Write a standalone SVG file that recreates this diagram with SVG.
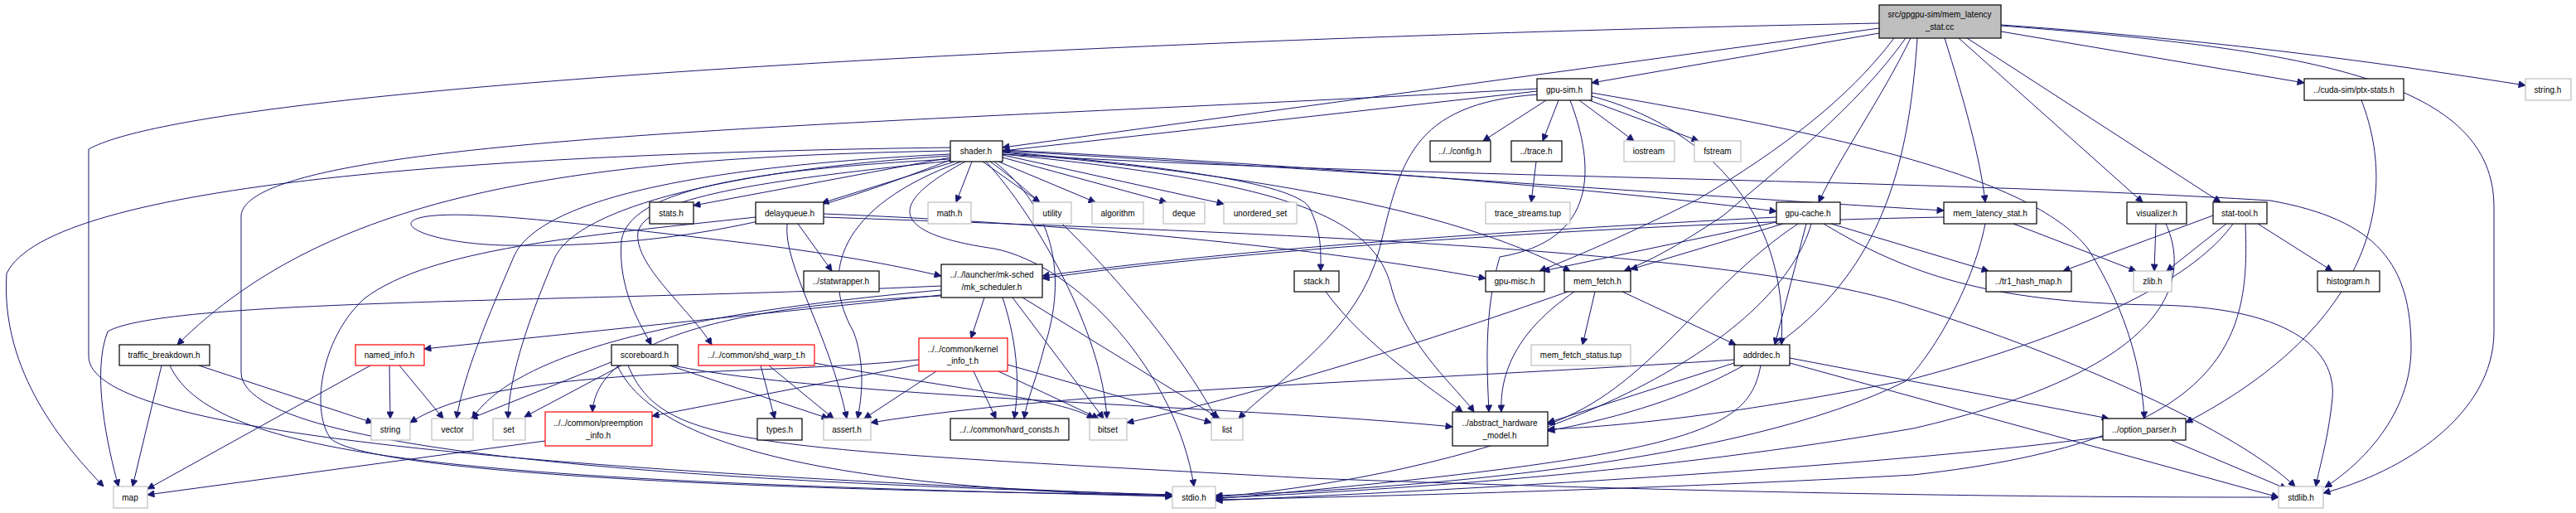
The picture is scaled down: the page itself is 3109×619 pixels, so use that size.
<svg xmlns="http://www.w3.org/2000/svg" width="3109" height="619" viewBox="0 0 3109 619">
<style>
rect{fill:#fff;stroke:#000;stroke-width:1.2}
rect.g{stroke:#bfbfbf}
rect.r{stroke:#ff0000}
rect.root{fill:#bfbfbf}
text{font-family:"Liberation Sans",Arial,sans-serif;font-size:10px;text-anchor:middle;fill:#000}
#edges path{fill:none;stroke:#191970;stroke-width:1;marker-end:url(#a)}
</style>
<defs>
<marker id="a" viewBox="0 0 10 10" refX="10" refY="5" markerWidth="11" markerHeight="8" markerUnits="userSpaceOnUse" orient="auto"><path d="M0,0 L10,5 L0,10 z" fill="#191970" stroke="#191970"/></marker>
</defs>
<rect x="0" y="0" width="3109" height="619" style="fill:#fff;stroke:none"/>
<g id="edges">
<!-- root -->
<path d="M2268,40 L1921,100"/>
<path d="M2268,34 L1210,178"/>
<path d="M2268,28 C1400,45 250,100 107,180 L107,430 C107,520 600,565 1415,598"/>
<path d="M2286,46 C2230,120 2150,180 2050,240 C1950,290 1900,310 1858,327"/>
<path d="M2300,46 C2240,130 2150,200 2080,260 C2020,300 1990,315 1960,327"/>
<path d="M2306,46 C2270,120 2220,190 2195,244"/>
<path d="M2314,46 C2300,250 2250,450 1868,520"/>
<path d="M2347,46 C2370,120 2390,190 2396,244"/>
<path d="M2364,46 L2586,244"/>
<path d="M2374,46 L2680,244"/>
<path d="M2415,38 L2781,100"/>
<path d="M2415,30 C2700,50 2900,80 3048,103"/>
<path d="M2415,31 C2800,60 3010,100 3010,250 L3010,400 C3010,500 2900,570 2804,595"/>
<!-- gpu-sim.h -->
<path d="M1855,110 L1210,182"/>
<path d="M1866,121 L1790,170"/>
<path d="M1881,121 L1862,170"/>
<path d="M1906,121 L1972,170"/>
<path d="M1918,121 L2050,170"/>
<path d="M1855,107 C1100,150 300,160 291,260 L291,450 C295,560 1000,585 1415,597"/>
<path d="M1921,116 C2050,150 2160,250 2150,416"/>
<path d="M1921,112 C2200,160 2450,210 2520,300 C2570,380 2585,450 2588,505"/>
<path d="M1895,121 C1925,200 1930,290 1810,310 C1790,380 1795,450 1797,497"/>
<path d="M1856,114 C1700,125 1690,200 1665,300 C1640,400 1540,460 1495,505"/>
<!-- shader.h -->
<path d="M1147,178 C600,185 60,220 8,330 C0,450 80,540 125,587"/>
<path d="M1147,182 C700,190 400,230 214,416"/>
<path d="M1147,190 L837,248"/>
<path d="M1152,195 L992,245"/>
<path d="M1173,195 L1154,244"/>
<path d="M1186,195 L1255,244"/>
<path d="M1205,195 L1322,244"/>
<path d="M1210,190 L1408,244"/>
<path d="M1210,187 L1477,246"/>
<path d="M1210,183 C1400,200 1560,220 1580,250 C1595,280 1594,300 1594,327"/>
<path d="M1210,184 C1500,210 1750,250 1895,327"/>
<path d="M1210,181 C1600,200 1950,230 2144,255"/>
<path d="M1210,182 C1700,210 2100,240 2346,254"/>
<path d="M1210,186 C1700,215 2300,215 2740,242 C2870,265 2910,320 2910,420 C2910,500 2850,560 2806,588"/>
<path d="M1210,186 C1550,220 1660,260 1680,350 C1700,420 1760,470 1779,497"/>
<path d="M1165,195 C1080,240 1060,280 1200,300 C1300,320 1420,450 1441,587"/>
<path d="M1160,195 C1010,250 990,330 1030,400 C1045,440 1040,480 1035,505"/>
<path d="M1147,186 C850,200 650,240 620,310 C590,380 560,450 551,505"/>
<path d="M1147,188 C880,205 700,250 670,310 C640,380 615,450 613,505"/>
<path d="M1195,195 C1260,240 1400,380 1468,505"/>
<path d="M1190,195 C1250,260 1330,400 1336,505"/>
<path d="M1200,195 C1270,250 1290,330 1260,420 C1250,460 1240,480 1236,505"/>
<path d="M1147,192 C900,205 760,230 750,290 C745,350 775,395 786,416"/>
<path d="M1148,194 C950,215 780,235 770,280 C765,320 830,370 859,416"/>
<path d="M1147,193 C1000,250 850,300 610,296 C520,294 470,270 510,262 C560,252 700,270 890,292 C1000,305 1080,320 1136,333"/>
<!-- trace.h -->
<path d="M1854,195 L1848,244"/>
<!-- delayqueue.h -->
<path d="M963,270 L1004,327"/>
<path d="M950,270 C945,320 1000,400 1022,505"/>
<path d="M912,262 C700,285 520,300 440,360 C385,410 375,500 400,530 C450,570 900,592 1415,597"/>
<path d="M994,258 C1300,270 1600,300 1793,336"/>
<path d="M994,262 C1500,280 2100,300 2309,370 C2500,430 2700,520 2770,587"/>
<!-- traffic_breakdown.h -->
<path d="M240,441 L450,510"/>
<path d="M195,441 L160,587"/>
<path d="M205,441 C260,560 600,580 1415,599"/>
<!-- named_info.h -->
<path d="M470,441 L471,505"/>
<path d="M482,441 L535,505"/>
<path d="M447,441 L178,590"/>
<!-- scoreboard.h -->
<path d="M750,441 L633,503"/>
<path d="M740,436 L568,505"/>
<path d="M808,441 L1000,505"/>
<path d="M745,441 C800,560 1100,590 1415,599"/>
<path d="M758,441 C800,540 900,540 1580,577 C2200,600 2600,600 2750,600"/>
<path d="M812,441 C1000,480 1500,490 1753,515"/>
<!-- shd_warp_t.h -->
<path d="M918,441 L935,505"/>
<path d="M928,441 L1006,505"/>
<path d="M983,438 C1150,470 1280,480 1320,505"/>
<!-- kernel_info_t.h -->
<path d="M1130,448 L1043,505"/>
<path d="M1175,448 L1202,505"/>
<path d="M1205,448 L1326,505"/>
<path d="M1216,440 L1462,510"/>
<path d="M1109,440 L787,502"/>
<path d="M1109,434 C900,455 600,440 495,510"/>
<!-- mk_scheduler.h -->
<path d="M1188,359 L1172,408"/>
<path d="M1210,359 C1230,420 1230,470 1224,505"/>
<path d="M1222,359 L1332,505"/>
<path d="M1234,359 L1472,505"/>
<path d="M1136,356 L512,421"/>
<path d="M1136,350 C800,380 620,430 570,505"/>
<path d="M1136,345 C700,365 200,360 130,400 C110,450 130,540 143,587"/>
<path d="M1136,357 C850,370 720,420 715,497"/>
<!-- preemption_info.h -->
<path d="M658,532 L178,597"/>
<!-- gpu-cache.h -->
<path d="M2144,262 C1800,280 1500,300 1258,333"/>
<path d="M2152,270 L1968,325"/>
<path d="M2144,268 L1862,327"/>
<path d="M2210,270 L2400,327"/>
<path d="M2180,270 L2142,416"/>
<path d="M2170,270 C2050,350 1990,470 1868,512"/>
<path d="M2186,270 C2150,400 1900,560 1467,600"/>
<path d="M2201,270 C2300,330 2400,365 2600,368 C2760,370 2820,420 2815,480 C2810,530 2800,560 2795,587"/>
<!-- mem_latency_stat.h -->
<path d="M2430,270 L2578,327"/>
<path d="M2396,270 C2380,350 2330,430 2300,460 C2100,560 1700,590 1467,598"/>
<path d="M2346,262 C2000,268 1500,300 1258,336"/>
<!-- visualizer.h -->
<path d="M2602,270 L2600,327"/>
<path d="M2614,270 C2650,350 2600,450 2309,517 C2000,570 1700,590 1467,601"/>
<!-- stat-tool.h -->
<path d="M2671,260 L2490,327"/>
<path d="M2687,270 L2615,327"/>
<path d="M2725,270 L2815,327"/>
<path d="M2695,270 C2660,320 2560,390 2309,457 C2100,500 1950,515 1868,518"/>
<path d="M2710,270 C2715,400 2700,530 2309,573 C2000,590 1700,598 1467,603"/>
<!-- ptx-stats.h -->
<path d="M2850,121 C2900,250 2850,400 2638,510"/>
<!-- option_parser.h -->
<path d="M2538,527 C2300,560 1800,590 1467,604"/>
<path d="M2620,531 L2760,590"/>
<!-- addrdec.h -->
<path d="M2093,434 C1700,460 1300,470 1051,510"/>
<path d="M2093,438 L1868,510"/>
<path d="M2125,441 C2110,520 2050,550 1467,602"/>
<path d="M2160,438 L2750,600"/>
<path d="M2160,432 L2545,505"/>
<!-- mem_fetch.h -->
<path d="M1925,352 L1910,416"/>
<path d="M1958,352 L2095,416"/>
<path d="M1900,352 C1830,400 1810,450 1812,497"/>
<path d="M1892,352 C1700,420 1500,480 1360,510"/>
<!-- stack.h -->
<path d="M1600,352 C1650,420 1730,470 1765,497"/>
</g>
<g id="n_root"><rect class="root" x="2268" y="6" width="147" height="40"/><text x="2341" y="21">src/gpgpu-sim/mem_latency</text><text x="2341" y="36">_stat.cc</text></g>
<g id="n_gpusim"><rect x="1855" y="95" width="66" height="26"/><text x="1888" y="112">gpu-sim.h</text></g>
<g id="n_ptxstats"><rect x="2781" y="95" width="120" height="26"/><text x="2841" y="112">../cuda-sim/ptx-stats.h</text></g>
<g id="n_stringh"><rect class="g" x="3048" y="95" width="55" height="26"/><text x="3075" y="112">string.h</text></g>
<g id="n_shader"><rect x="1147" y="170" width="63" height="25"/><text x="1178" y="186">shader.h</text></g>
<g id="n_config"><rect x="1726" y="170" width="73" height="25"/><text x="1762" y="186">../../config.h</text></g>
<g id="n_trace"><rect x="1824" y="170" width="61" height="25"/><text x="1854" y="186">../trace.h</text></g>
<g id="n_iostream"><rect class="g" x="1960" y="170" width="61" height="25"/><text x="1990" y="186">iostream</text></g>
<g id="n_fstream"><rect class="g" x="2045" y="170" width="56" height="25"/><text x="2073" y="186">fstream</text></g>
<g id="n_stats"><rect x="784" y="244" width="53" height="26"/><text x="810" y="261">stats.h</text></g>
<g id="n_delayqueue"><rect x="912" y="244" width="82" height="26"/><text x="953" y="261">delayqueue.h</text></g>
<g id="n_math"><rect class="g" x="1120" y="244" width="52" height="26"/><text x="1146" y="261">math.h</text></g>
<g id="n_utility"><rect class="g" x="1247" y="244" width="46" height="26"/><text x="1270" y="261">utility</text></g>
<g id="n_algorithm"><rect class="g" x="1318" y="244" width="62" height="26"/><text x="1349" y="261">algorithm</text></g>
<g id="n_deque"><rect class="g" x="1404" y="244" width="50" height="26"/><text x="1429" y="261">deque</text></g>
<g id="n_unordered_set"><rect class="g" x="1477" y="244" width="88" height="26"/><text x="1521" y="261">unordered_set</text></g>
<g id="n_tracetup"><rect class="g" x="1793" y="244" width="102" height="26"/><text x="1844" y="261">trace_streams.tup</text></g>
<g id="n_gpucache"><rect x="2144" y="244" width="77" height="26"/><text x="2182" y="261">gpu-cache.h</text></g>
<g id="n_memlat"><rect x="2346" y="244" width="112" height="26"/><text x="2402" y="261">mem_latency_stat.h</text></g>
<g id="n_visualizer"><rect x="2567" y="244" width="72" height="26"/><text x="2603" y="261">visualizer.h</text></g>
<g id="n_stattool"><rect x="2671" y="244" width="65" height="26"/><text x="2703" y="261">stat-tool.h</text></g>
<g id="n_statwrapper"><rect x="970" y="327" width="91" height="25"/><text x="1015" y="343">../statwrapper.h</text></g>
<g id="n_mksched"><rect x="1136" y="319" width="122" height="40"/><text x="1197" y="335">../../launcher/mk-sched</text><text x="1197" y="350">/mk_scheduler.h</text></g>
<g id="n_stack"><rect x="1562" y="327" width="54" height="25"/><text x="1589" y="343">stack.h</text></g>
<g id="n_gpumisc"><rect x="1793" y="327" width="71" height="25"/><text x="1828" y="343">gpu-misc.h</text></g>
<g id="n_memfetch"><rect x="1888" y="327" width="80" height="25"/><text x="1928" y="343">mem_fetch.h</text></g>
<g id="n_tr1"><rect x="2397" y="327" width="103" height="25"/><text x="2448" y="343">../tr1_hash_map.h</text></g>
<g id="n_zlib"><rect class="g" x="2575" y="327" width="46" height="25"/><text x="2598" y="343">zlib.h</text></g>
<g id="n_histogram"><rect x="2797" y="327" width="75" height="25"/><text x="2834" y="343">histogram.h</text></g>
<g id="n_traffic"><rect x="144" y="416" width="109" height="25"/><text x="198" y="432">traffic_breakdown.h</text></g>
<g id="n_named"><rect class="r" x="429" y="416" width="83" height="25"/><text x="470" y="432">named_info.h</text></g>
<g id="n_scoreboard"><rect x="738" y="416" width="80" height="25"/><text x="778" y="432">scoreboard.h</text></g>
<g id="n_shdwarp"><rect class="r" x="843" y="416" width="140" height="25"/><text x="913" y="432">../../common/shd_warp_t.h</text></g>
<g id="n_kernelinfo"><rect class="r" x="1109" y="408" width="107" height="40"/><text x="1162" y="425">../../common/kernel</text><text x="1162" y="439">_info_t.h</text></g>
<g id="n_mfstatus"><rect class="g" x="1848" y="416" width="120" height="25"/><text x="1908" y="432">mem_fetch_status.tup</text></g>
<g id="n_addrdec"><rect x="2093" y="416" width="67" height="25"/><text x="2126" y="432">addrdec.h</text></g>
<g id="n_string"><rect class="g" x="448" y="505" width="47" height="26"/><text x="471" y="522">string</text></g>
<g id="n_vector"><rect class="g" x="521" y="505" width="50" height="26"/><text x="546" y="522">vector</text></g>
<g id="n_set"><rect class="g" x="595" y="505" width="39" height="26"/><text x="614" y="522">set</text></g>
<g id="n_preempt"><rect class="r" x="658" y="497" width="129" height="41"/><text x="722" y="514">../../common/preemption</text><text x="722" y="529">_info.h</text></g>
<g id="n_types"><rect x="914" y="505" width="54" height="26"/><text x="941" y="522">types.h</text></g>
<g id="n_assert"><rect class="g" x="994" y="505" width="57" height="26"/><text x="1022" y="522">assert.h</text></g>
<g id="n_hardconsts"><rect x="1147" y="505" width="143" height="26"/><text x="1218" y="522">../../common/hard_consts.h</text></g>
<g id="n_bitset"><rect class="g" x="1315" y="505" width="45" height="26"/><text x="1337" y="522">bitset</text></g>
<g id="n_list"><rect class="g" x="1462" y="505" width="38" height="26"/><text x="1481" y="522">list</text></g>
<g id="n_ahm"><rect x="1753" y="497" width="115" height="41"/><text x="1810" y="514">../abstract_hardware</text><text x="1810" y="529">_model.h</text></g>
<g id="n_optparser"><rect x="2538" y="505" width="100" height="26"/><text x="2588" y="522">../option_parser.h</text></g>
<g id="n_map"><rect class="g" x="137" y="587" width="41" height="26"/><text x="157" y="604">map</text></g>
<g id="n_stdio"><rect class="g" x="1415" y="587" width="52" height="26"/><text x="1441" y="604">stdio.h</text></g>
<g id="n_stdlib"><rect class="g" x="2750" y="587" width="54" height="26"/><text x="2777" y="604">stdlib.h</text></g>
</svg>
